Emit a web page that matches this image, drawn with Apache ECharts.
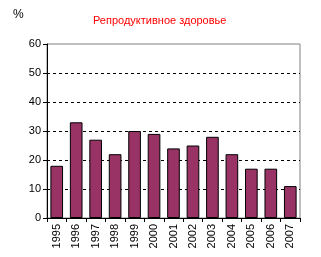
<!DOCTYPE html>
<html>
<head>
<meta charset="utf-8">
<script src="https://cdn.jsdelivr.net/npm/echarts@6/dist/echarts.min.js"></script>
<style>html,body{margin:0;padding:0;background:#fff;}#c{width:321px;height:257px;}</style>
</head>
<body>
<div id="c"></div>
<script>
var years = ['1995','1996','1997','1998','1999','2000','2001','2002','2003','2004','2005','2006','2007'];
var values = [18, 33, 27, 22, 30, 29, 24, 25, 28, 22, 17, 17, 11];
var yTicks = [0, 10, 20, 30, 40, 50, 60];
var titleText = 'Репродуктивное здоровье';
var unitText = '%';

var chart = echarts.init(document.getElementById('c'), null, {renderer: 'canvas'});
chart.setOption({
  animation: false,
  backgroundColor: '#fff',
  title: {
    text: titleText,
    left: 88, top: 10,
    textStyle: {color: '#ff0000', fontFamily: 'Liberation Sans, Arial', fontSize: 11, fontWeight: 'normal'}
  },
  graphic: [{
    type: 'text', left: 13, top: 9,
    style: {text: unitText, fill: '#000', font: '12px Liberation Sans, Arial'}
  }],
  grid: {left: 47, right: 21, top: 44, bottom: 39, show: true, borderColor: '#808080', borderWidth: 1, backgroundColor: 'transparent'},
  xAxis: {
    type: 'category', data: years,
    axisLine: {lineStyle: {color: '#000', width: 1}},
    axisTick: {show: true, length: 4, lineStyle: {color: '#000'}},
    axisLabel: {rotate: 90, color: '#000', fontFamily: 'Liberation Sans, Arial', fontSize: 11, margin: 6}
  },
  yAxis: {
    type: 'value', min: yTicks[0], max: yTicks[yTicks.length-1], interval: 10,
    axisLine: {show: true, lineStyle: {color: '#000', width: 1}},
    axisTick: {show: true, length: 4, lineStyle: {color: '#000'}},
    axisLabel: {color: '#000', fontFamily: 'Liberation Sans, Arial', fontSize: 11, margin: 6},
    splitLine: {show: true, showMinLine: false, showMaxLine: false, lineStyle: {color: '#000', type: [3, 3], width: 1}}
  },
  series: [{
    type: 'bar', data: values, barCategoryGap: '35%',
    itemStyle: {color: '#993366', borderColor: '#000', borderWidth: 1}
  }]
});
</script>
</body>
</html>
